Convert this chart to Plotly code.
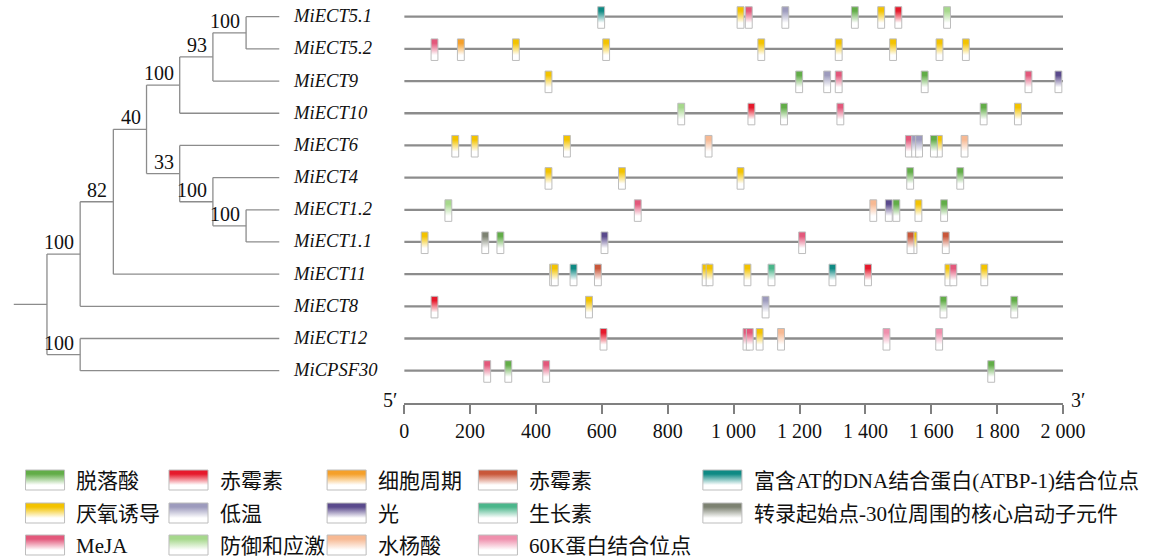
import plotly.graph_objects as go

W, H = 1169, 558
FONT = "Liberation Serif, 'Noto Sans CJK SC', serif"

# ---------------- data ----------------
genes = ["MiECT5.1", "MiECT5.2", "MiECT9", "MiECT10", "MiECT6", "MiECT4",
         "MiECT1.2", "MiECT1.1", "MiECT11", "MiECT8", "MiECT12", "MiCPSF30"]
promoter_length = 2000

# phylogenetic tree (internal nodes listed children-first)
node_names = ["a", "b", "c", "d", "e", "f", "g", "h", "i", "j", "root"]
node_depth = [6, 5, 4, 6, 5, 4, 3, 2, 1, 1, 0]
node_children = [["MiECT5.1", "MiECT5.2"], ["a", "MiECT9"], ["b", "MiECT10"],
                 ["MiECT1.2", "MiECT1.1"], ["MiECT4", "d"], ["MiECT6", "e"],
                 ["c", "f"], ["g", "MiECT11"], ["h", "MiECT8"],
                 ["MiECT12", "MiCPSF30"], ["i", "j"]]
node_support = [100, 93, 100, 100, 100, 33, 40, 82, 100, 100, None]
leaf_depth = 7

# cis-element categories
element_keys = ["ABA", "GA", "CC", "GA2", "ATBP", "ANA", "LT", "LIGHT", "AUX",
                "TATA", "MEJA", "DEF", "SA", "K60"]
element_labels = ["脱落酸", "赤霉素", "细胞周期", "赤霉素",
                  "富含AT的DNA结合蛋白(ATBP-1)结合位点", "厌氧诱导", "低温", "光",
                  "生长素", "转录起始点-30位周围的核心启动子元件", "MeJA",
                  "防御和应激", "水杨酸", "60K蛋白结合位点"]
element_colors = ["#62ad48", "#e6192c", "#f5a02a", "#c9573a", "#0f8a84",
                  "#f3c300", "#9d9bbd", "#5a4a8c", "#4bb68b", "#7d8272",
                  "#e3587b", "#a6d88c", "#f7b993", "#ef90ad"]

# site positions (bp) and element types, per gene
pos_MiECT5_1 = [598, 1021, 1046, 1157, 1368, 1448, 1500, 1648]
typ_MiECT5_1 = ["ATBP", "ANA", "MEJA", "LT", "ABA", "ANA", "GA", "DEF"]
pos_MiECT5_2 = [92, 172, 339, 613, 1084, 1319, 1484, 1625, 1705]
typ_MiECT5_2 = ["MEJA", "CC", "ANA", "ANA", "ANA", "ANA", "ANA", "ANA", "ANA"]
pos_MiECT9 = [438, 1199, 1284, 1319, 1580, 1895, 1986]
typ_MiECT9 = ["ANA", "ABA", "LT", "MEJA", "ABA", "MEJA", "LIGHT"]
pos_MiECT10 = [841, 1054, 1153, 1324, 1759, 1863]
typ_MiECT10 = ["DEF", "GA", "ABA", "MEJA", "ABA", "ANA"]
pos_MiECT6 = [155, 214, 494, 924, 1532, 1551, 1563, 1623, 1608, 1701]
typ_MiECT6 = ["ANA", "ANA", "ANA", "SA", "MEJA", "LT", "LT", "ANA", "ABA", "SA"]
pos_MiECT4 = [438, 661, 1021, 1536, 1688]
typ_MiECT4 = ["ANA", "ANA", "ANA", "ABA", "ABA"]
pos_MiECT1_2 = [134, 709, 1424, 1471, 1494, 1561, 1639]
typ_MiECT1_2 = ["DEF", "MEJA", "SA", "LIGHT", "ABA", "ANA", "ABA"]
pos_MiECT1_1 = [62, 246, 292, 608, 1208, 1546, 1537, 1644]
typ_MiECT1_1 = ["ANA", "TATA", "ABA", "LIGHT", "MEJA", "ANA", "GA2", "GA2"]
pos_MiECT11 = [452, 457, 514, 588, 915, 927, 1042, 1115, 1300, 1408, 1652, 1667, 1761]
typ_MiECT11 = ["ANA", "ANA", "ATBP", "GA2", "ANA", "ANA", "ANA", "AUX", "ATBP",
               "GA", "ANA", "MEJA", "ANA"]
pos_MiECT8 = [92, 561, 1097, 1637, 1852]
typ_MiECT8 = ["GA", "ANA", "LT", "ABA", "ABA"]
pos_MiECT12 = [605, 1039, 1049, 1079, 1144, 1464, 1624]
typ_MiECT12 = ["GA", "MEJA", "MEJA", "ANA", "SA", "K60", "K60"]
pos_MiCPSF30 = [252, 316, 431, 1782]
typ_MiCPSF30 = ["MEJA", "ABA", "MEJA", "ABA"]

site_positions = [pos_MiECT5_1, pos_MiECT5_2, pos_MiECT9, pos_MiECT10, pos_MiECT6,
                  pos_MiECT4, pos_MiECT1_2, pos_MiECT1_1, pos_MiECT11, pos_MiECT8,
                  pos_MiECT12, pos_MiCPSF30]
site_types = [typ_MiECT5_1, typ_MiECT5_2, typ_MiECT9, typ_MiECT10, typ_MiECT6,
              typ_MiECT4, typ_MiECT1_2, typ_MiECT1_1, typ_MiECT11, typ_MiECT8,
              typ_MiECT12, typ_MiCPSF30]

axis_ticks = [0, 200, 400, 600, 800, 1000, 1200, 1400, 1600, 1800, 2000]
axis_ticktext = ["0", "200", "400", "600", "800", "1 000", "1 200", "1 400",
                 "1 600", "1 800", "2 000"]

# ---------------- layout geometry (pixels) ----------------
ROW0_PX, ROW_STEP = 16.7, 32.18
AXIS_PX = 403.3
Y_TOP = -ROW0_PX / ROW_STEP
Y_BOT = (AXIS_PX - ROW0_PX) / ROW_STEP
X0_PX, X1_PX = 409, 1084
TREE_D0_PX, TREE_STEP = 43, 34
TREE_DOM = 400

color_of = dict(zip(element_keys, element_colors))
BORDER = "#bdbdbd"
LINE_GRAY = "#8c8c8c"

fig = go.Figure()


def grad_box(x0, x1, y0, y1, color, xa, ya):
    return go.Scatter(
        x=[x0, x1, x1, x0, x0], y=[y0, y0, y1, y1, y0], mode="lines",
        fill="toself", line=dict(color=BORDER, width=1),
        fillgradient=dict(type="vertical",
                          colorscale=[[0, color], [0.2, color], [0.75, "#ffffff"], [1, "#ffffff"]],
                          start=y0, stop=y1),
        xaxis=xa, yaxis=ya, hoverinfo="skip", showlegend=False)


# ---------------- tree ----------------
ypos = {g: i for i, g in enumerate(genes)}
dpos = {g: leaf_depth for g in genes}
for n, d, ch in zip(node_names, node_depth, node_children):
    ypos[n] = sum(ypos[c] for c in ch) / len(ch)
    dpos[n] = d

tx, ty = [], []
for n, d, ch in zip(node_names, node_depth, node_children):
    ys = [ypos[c] for c in ch]
    tx += [d, d, None]
    ty += [min(ys), max(ys), None]
    for c in ch:
        tx += [d, dpos[c], None]
        ty += [ypos[c], ypos[c], None]
tx += [-1, 0]
ty += [ypos["root"], ypos["root"]]
fig.add_trace(go.Scatter(x=tx, y=ty, mode="lines", line=dict(color=LINE_GRAY, width=1.3),
                         xaxis="x", yaxis="y", hoverinfo="skip", showlegend=False))

for n, s in zip(node_names, node_support):
    if s is None:
        continue
    fig.add_annotation(x=dpos[n], y=ypos[n], xref="x", yref="y", text=str(s),
                       showarrow=False, xanchor="right", yanchor="middle",
                       xshift=-4, yshift=12, font=dict(family=FONT, size=20, color="#111"))

for i, g in enumerate(genes):
    fig.add_annotation(x=293 / W, y=i, xref="paper", yref="y", text="<i>%s</i>" % g,
                       showarrow=False, xanchor="left", yanchor="middle", yshift=1,
                       font=dict(family=FONT, size=18.6, color="#111"))

# ---------------- promoter lines & elements ----------------
lx, ly = [], []
for i, g in enumerate(genes):
    lx += [0, promoter_length, None]
    ly += [i, i, None]
fig.add_trace(go.Scatter(x=lx, y=ly, mode="lines", line=dict(color=LINE_GRAY, width=2.3),
                         xaxis="x2", yaxis="y", hoverinfo="skip", showlegend=False))

HW = 10.4          # half width of a site box (bp)
TOP, BOT = -0.31, 0.36
for i, (ps, ts) in enumerate(zip(site_positions, site_types)):
    for p, t in zip(ps, ts):
        fig.add_trace(grad_box(p - HW, p + HW, i + TOP, i + BOT, color_of[t], "x2", "y"))

# ---------------- legend ----------------
legend_rows = [["ABA", "GA", "CC", "GA2", "ATBP"],
               ["ANA", "LT", "LIGHT", "AUX", "TATA"],
               ["MEJA", "DEF", "SA", "K60"]]
col_px = [21, 168, 330, 485, 715]
row_px = [481, 514, 546]
SW_W, SW_H = 40, 20
label_of = dict(zip(element_keys, element_labels))
for r, keys in enumerate(legend_rows):
    for c, k in enumerate(keys):
        x0 = col_px[c]
        yc = row_px[r] - 1
        fig.add_trace(grad_box(x0, x0 + SW_W, yc - SW_H / 2, yc + SW_H / 2, color_of[k], "x3", "y3"))
        fig.add_annotation(x=x0 + SW_W + 10, y=row_px[r], xref="x3", yref="y3",
                           text=label_of[k], showarrow=False, xanchor="left", yanchor="middle",
                           font=dict(family=FONT, size=21, color="#111"))

# 5' / 3' markers
fig.add_annotation(x=0, y=1 - 400 / H, xref="x2", yref="paper", text="5′", showarrow=False,
                   xanchor="right", yanchor="middle", xshift=-5,
                   font=dict(family=FONT, size=20, color="#111"))
fig.add_annotation(x=promoter_length, y=1 - 400 / H, xref="x2", yref="paper", text="3′",
                   showarrow=False, xanchor="left", yanchor="middle", xshift=6,
                   font=dict(family=FONT, size=20, color="#111"))

ydom = [1 - AXIS_PX / H, 1]
fig.update_layout(
    width=W, height=H, margin=dict(l=0, r=0, t=0, b=0),
    paper_bgcolor="white", plot_bgcolor="rgba(0,0,0,0)",
    showlegend=False,
    xaxis=dict(domain=[0, TREE_DOM / W],
               range=[-TREE_D0_PX / TREE_STEP, (TREE_DOM - TREE_D0_PX) / TREE_STEP],
               visible=False, anchor="y"),
    xaxis2=dict(domain=[X0_PX / W, X1_PX / W], range=[0, promoter_length], anchor="y",
                showgrid=False, zeroline=False, showline=True, linecolor="#808080", linewidth=1.5,
                ticks="outside", ticklen=9, tickwidth=1.5, tickcolor="#808080",
                tickvals=axis_ticks, ticktext=axis_ticktext,
                tickfont=dict(family=FONT, size=20, color="#111")),
    yaxis=dict(domain=ydom, range=[Y_BOT, Y_TOP], visible=False),
    xaxis3=dict(domain=[0, 1], range=[0, W], visible=False, anchor="y3"),
    yaxis3=dict(domain=[0, 1], range=[H, 0], visible=False, anchor="x3"),
)

fig.write_html("out.html")
